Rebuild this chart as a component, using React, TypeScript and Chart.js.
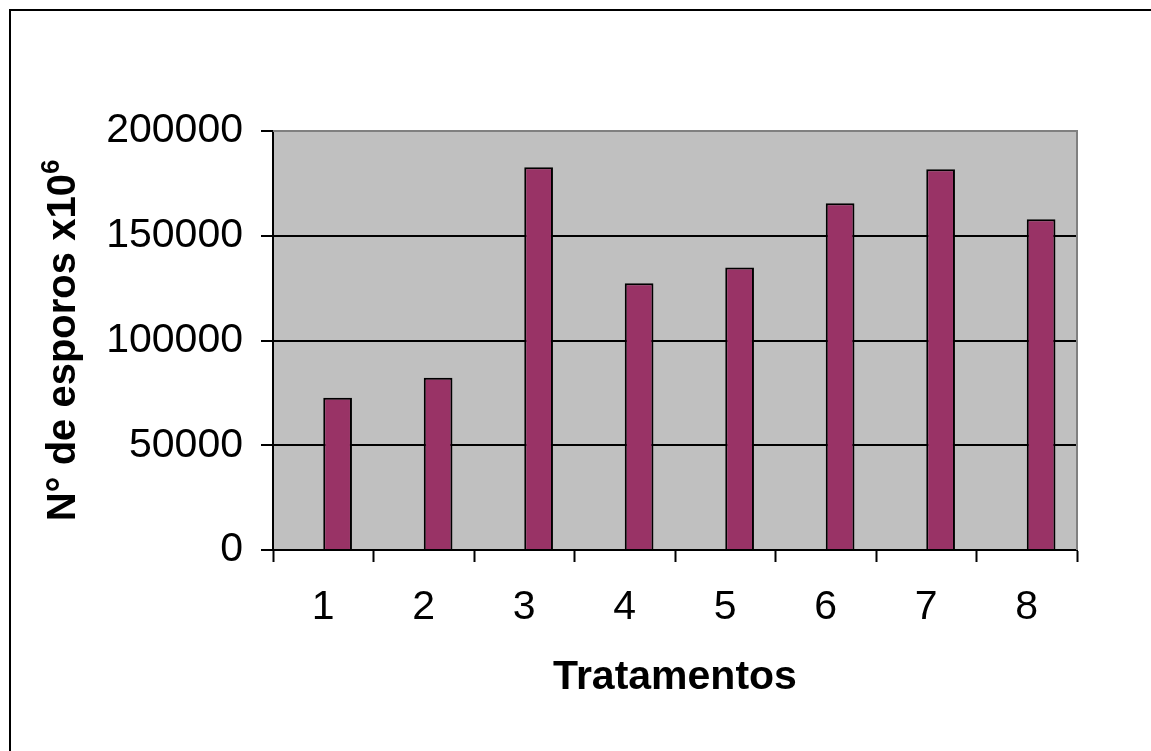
import React, { useEffect, useRef } from 'react';
import { Chart, registerables } from 'chart.js';

Chart.register(...registerables);

const categories = ['1', '2', '3', '4', '5', '6', '7', '8'];
const esporos = [72700, 82200, 182700, 127300, 134800, 165500, 181700, 157900];
const emptySeries: (number | null)[] = categories.map(() => null);
const yTickValues = [0, 50000, 100000, 150000, 200000];
const yTitle = 'N° de esporos x10';
const yTitleSup = '6';
const xTitle = 'Tratamentos';

const FONT = '"Liberation Sans", Arial, sans-serif';

const framePlugin = {
  id: 'frame',
  beforeDraw(chart: any) {
    const { ctx, chartArea: a } = chart;
    ctx.save();
    ctx.fillStyle = '#ffffff';
    ctx.fillRect(0, 0, chart.width, chart.height);
    ctx.fillStyle = '#C0C0C0';
    ctx.fillRect(a.left, a.top, a.right - a.left, a.bottom - a.top);
    ctx.fillStyle = '#000000';
    ctx.fillRect(9, 9, chart.width, 2);
    ctx.fillRect(9, 9, 2, chart.height);
    ctx.restore();
  },
  afterDraw(chart: any) {
    const { ctx, chartArea: a } = chart;
    ctx.save();
    ctx.strokeStyle = '#808080';
    ctx.lineWidth = 2;
    ctx.beginPath();
    ctx.moveTo(a.left, a.top);
    ctx.lineTo(a.right, a.top);
    ctx.lineTo(a.right, a.bottom);
    ctx.stroke();
    ctx.restore();

    ctx.save();
    ctx.translate(75, (a.top + a.bottom) / 2);
    ctx.rotate(-Math.PI / 2);
    ctx.fillStyle = '#000000';
    ctx.textAlign = 'left';
    ctx.textBaseline = 'alphabetic';
    ctx.font = `bold 40px ${FONT}`;
    const w1 = ctx.measureText(yTitle).width;
    ctx.font = `bold 26px ${FONT}`;
    const w2 = ctx.measureText(yTitleSup).width;
    const total = w1 + w2;
    ctx.font = `bold 40px ${FONT}`;
    ctx.fillText(yTitle, -total / 2, 0);
    ctx.font = `bold 26px ${FONT}`;
    ctx.fillText(yTitleSup, -total / 2 + w1, -16);
    ctx.restore();
  },
};

export default function App() {
  const canvasRef = useRef<HTMLCanvasElement | null>(null);

  useEffect(() => {
    document.body.style.margin = '0';
    const canvas = canvasRef.current;
    if (!canvas) return;
    const chart = new Chart(canvas, {
      type: 'bar',
      data: {
        labels: categories,
        datasets: [
          {
            label: 'vazio',
            data: emptySeries,
            backgroundColor: '#993366',
            categoryPercentage: 2 / 3.5,
            barPercentage: 1,
          } as any,
          {
            label: 'Esporos',
            data: esporos,
            backgroundColor: '#993366',
            borderColor: '#000000',
            borderWidth: 2,
            categoryPercentage: 2 / 3.5,
            barPercentage: 1,
          } as any,
        ],
      },
      options: {
        animation: false,
        responsive: false,
        devicePixelRatio: 1,
        layout: { padding: { top: 131, right: 74, left: 0, bottom: 0 } },
        plugins: {
          legend: { display: false },
          tooltip: { enabled: false },
          title: { display: false },
        },
        scales: {
          x: {
            offset: true,
            grid: {
              display: true,
              offset: true,
              drawOnChartArea: false,
              drawTicks: true,
              tickLength: 12,
              tickColor: '#000000',
              tickWidth: 2,
            },
            border: { display: true, color: '#000000', width: 2 },
            ticks: {
              color: '#000000',
              font: { family: FONT, size: 41 },
              padding: 21,
              maxRotation: 0,
              autoSkip: false,
            },
            title: {
              display: true,
              text: xTitle,
              color: '#000000',
              font: { family: FONT, size: 41, weight: 'bold' },
              padding: { top: 0, bottom: 49 },
            },
            afterFit(scale: any) {
              scale.height = 201;
            },
          },
          y: {
            min: 0,
            max: 200000,
            afterBuildTicks(scale: any) {
              scale.ticks = yTickValues.map((v) => ({ value: v }));
            },
            grid: {
              color: (c: any) => (c.tick && c.tick.value === 200000 ? '#808080' : '#000000'),
              lineWidth: 2,
              drawTicks: true,
              tickLength: 12,
              tickColor: '#000000',
              tickWidth: 2,
            },
            border: { display: true, color: '#000000', width: 2 },
            ticks: {
              color: '#000000',
              font: { family: FONT, size: 41 },
              padding: 18,
              callback: (v: any) => String(v),
            },
            afterFit(scale: any) {
              scale.width = 273;
            },
          },
        },
      } as any,
      plugins: [framePlugin],
    });
    return () => chart.destroy();
  }, []);

  return (
    <canvas
      ref={canvasRef}
      width={1151}
      height={751}
      style={{ display: 'block', width: '1151px', height: '751px' }}
    />
  );
}
